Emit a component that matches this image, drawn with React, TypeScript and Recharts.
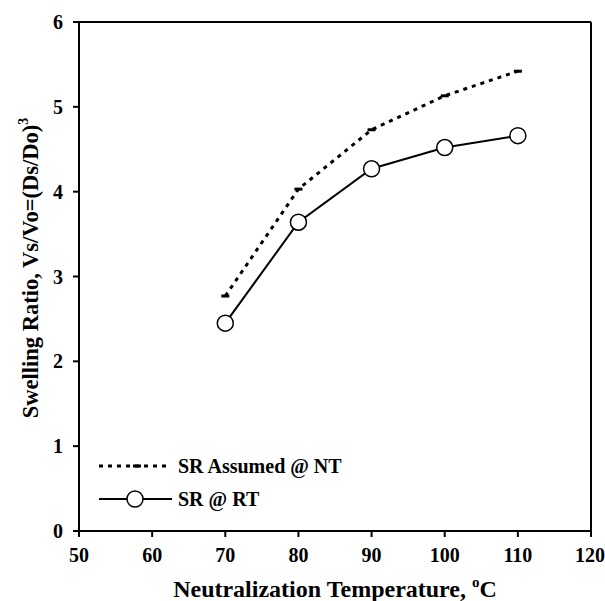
import React from 'react';
import { LineChart, Line, XAxis, YAxis, ReferenceLine } from 'recharts';

const temperatures = [70, 80, 90, 100, 110];
const srAssumedNT = [2.77, 4.03, 4.73, 5.13, 5.42];
const srRT = [2.45, 3.64, 4.27, 4.52, 4.66];
const xTicks = [50, 60, 70, 80, 90, 100, 110, 120];
const yTicks = [0, 1, 2, 3, 4, 5, 6];
const seriesNames = ['SR Assumed @ NT', 'SR @ RT'];

const data = temperatures.map((t, i) => ({ t, nt: srAssumedNT[i], rt: srRT[i] }));

const FONT = '"Liberation Serif", "Times New Roman", serif';

const DashDot = (props: any) => {
  const { cx, cy } = props;
  if (cx == null || cy == null) return null;
  return <rect x={cx - 4} y={cy - 1.5} width={8} height={3} fill="#000" />;
};

const CircleDot = (props: any) => {
  const { cx, cy } = props;
  if (cx == null || cy == null) return null;
  return <circle cx={cx} cy={cy} r={8} fill="#fff" stroke="#000" strokeWidth={1.5} />;
};

const LegendBox = () => (
  <svg width={280} height={60} style={{ position: 'absolute', left: 95, top: 452, overflow: 'visible' }}>
    <line x1={4} y1={14} x2={72} y2={14} stroke="#000" strokeWidth={3} strokeDasharray="4 5" />
    <rect x={38} y={12.5} width={8} height={3} fill="#000" />
    <text x={83} y={21} fontFamily={FONT} fontWeight="bold" fontSize={20} fill="#000">{seriesNames[0]}</text>
    <line x1={4} y1={47} x2={77} y2={47} stroke="#000" strokeWidth={2} />
    <circle cx={40} cy={47} r={8} fill="#fff" stroke="#000" strokeWidth={1.5} />
    <text x={83} y={54} fontFamily={FONT} fontWeight="bold" fontSize={20} fill="#000">{seriesNames[1]}</text>
  </svg>
);

const YLabel = () => (
  <text
    x={0}
    y={0}
    transform="translate(38, 268) rotate(-90)"
    textAnchor="middle"
    fontFamily={FONT}
    fontWeight="bold"
    fontSize={22.5}
    fill="#000"
  >
    Swelling Ratio, Vs/Vo=(Ds/Do)
    <tspan fontSize={14} dy={-10}>3</tspan>
  </text>
);

const XLabel = () => (
  <text x={335} y={597} textAnchor="middle" fontFamily={FONT} fontWeight="bold" fontSize={24} fill="#000">
    Neutralization Temperature,
    <tspan dx={6} fontSize={15} dy={-10}>o</tspan>
    <tspan dy={10}>C</tspan>
  </text>
);

export default function App() {
  return (
    <div style={{ position: 'absolute', left: 0, top: 0, width: 605, height: 601, background: '#fff' }}>
      <LineChart width={605} height={601} data={data} margin={{ top: 22, right: 14, left: 0, bottom: 0 }}>
        <XAxis
          dataKey="t"
          type="number"
          domain={[50, 120]}
          ticks={xTicks}
          axisLine={{ stroke: '#000', strokeWidth: 2 }}
          tickLine={{ stroke: '#000', strokeWidth: 2 }}
          tickSize={6}
          tickMargin={11}
          height={70}
          tick={{ fontFamily: FONT, fontWeight: 'bold', fontSize: 20, fill: '#000' }}
          label={<XLabel />}
        />
        <YAxis
          type="number"
          domain={[0, 6]}
          ticks={yTicks}
          width={79}
          axisLine={{ stroke: '#000', strokeWidth: 2 }}
          tickLine={{ stroke: '#000', strokeWidth: 2 }}
          tickSize={6}
          tickMargin={10}
          tick={{ fontFamily: FONT, fontWeight: 'bold', fontSize: 20, fill: '#000' }}
          label={<YLabel />}
        />
        <ReferenceLine y={6} stroke="#000" strokeWidth={2} />
        <ReferenceLine x={120} stroke="#000" strokeWidth={2} />
        <Line
          dataKey="nt"
          name={seriesNames[0]}
          stroke="#000"
          strokeWidth={3}
          strokeDasharray="4 5"
          dot={<DashDot />}
          isAnimationActive={false}
        />
        <Line
          dataKey="rt"
          name={seriesNames[1]}
          stroke="#000"
          strokeWidth={2}
          dot={<CircleDot />}
          isAnimationActive={false}
        />
      </LineChart>
      <LegendBox />
    </div>
  );
}
